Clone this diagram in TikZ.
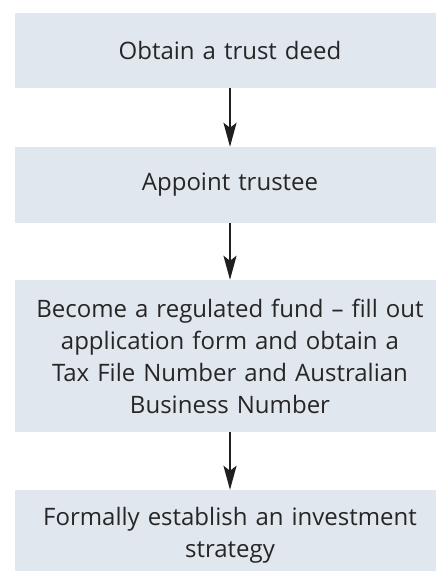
\documentclass[tikz,border=0pt]{standalone}
\usepackage{fontspec}
\setmainfont{Open Sans}
\usetikzlibrary{arrows.meta}
\definecolor{boxfill}{HTML}{E1E7EE}
\definecolor{txt}{HTML}{262626}
\begin{document}
\begin{tikzpicture}[x=1pt,y=-1pt,
  stepbox/.style={fill=boxfill, draw=none, minimum width=430pt, text width=410pt,
    align=center, inner sep=0pt, font=\fontsize{24}{32}\selectfont, text=txt},
  flow/.style={-{Stealth[length=24pt,width=13pt,inset=5pt]}, line width=2.3pt, draw=black!88}]
\useasboundingbox (0,0) rectangle (436,571);
\clip (0,0) rectangle (436,571);
\node[stepbox, minimum height=75pt] (b1) at (230,50.5) {Obtain a trust deed};
\node[stepbox, minimum height=76pt] (b2) at (230,185) {Appoint trustee};
\node[stepbox, minimum height=152pt] (b3) at (230,356) {Become a regulated fund -- fill out\\ application form and obtain a\\ Tax File Number and Australian\\ Business Number};
\node[stepbox, minimum height=91pt] (b4) at (230,535.5) {Formally establish an investment\\ strategy};
\draw[flow] (b1.south) -- (b2.north);
\draw[flow] (b2.south) -- (b3.north);
\draw[flow] (b3.south) -- (b4.north);
\end{tikzpicture}
\end{document}
